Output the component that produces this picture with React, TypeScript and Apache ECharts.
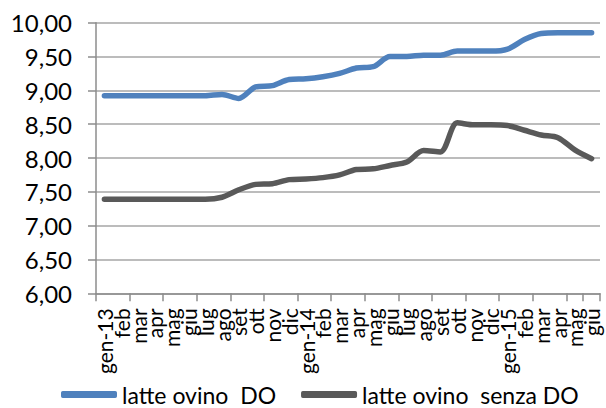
import React, { useEffect, useRef } from "react";
import * as echarts from "echarts";

const categories = [
  "gen-13", "feb", "mar", "apr", "mag", "giu", "lug", "ago", "set", "ott", "nov", "dic",
  "gen-14", "feb", "mar", "apr", "mag", "giu", "lug", "ago", "set", "ott", "nov", "dic",
  "gen-15", "feb", "mar", "apr", "mag", "giu",
];

const latteDO = [
  8.92, 8.92, 8.92, 8.92, 8.92, 8.92, 8.92, 8.94, 8.88, 9.05, 9.07, 9.16,
  9.17, 9.2, 9.25, 9.33, 9.35, 9.5, 9.5, 9.52, 9.52, 9.58, 9.58, 9.58,
  9.61, 9.75, 9.84, 9.85, 9.85, 9.85,
];

const latteSenzaDO = [
  7.39, 7.39, 7.39, 7.39, 7.39, 7.39, 7.39, 7.42, 7.53, 7.61, 7.62, 7.68,
  7.69, 7.71, 7.75, 7.83, 7.84, 7.89, 7.94, 8.11, 8.09, 8.52, 8.49, 8.49,
  8.48, 8.41, 8.34, 8.3, 8.12, 7.99,
];

const seriesNames = ["latte ovino  DO", "latte ovino  senza DO"];
const yTicks = { min: 6, max: 10, interval: 0.5 };

const FONT = "Lato";

export default function App() {
  const ref = useRef<HTMLDivElement>(null);
  useEffect(() => {
    if (!ref.current) return;
    const chart = echarts.init(ref.current, null, { renderer: "svg" });
    chart.setOption({
      animation: false,
      grid: { left: 96, right: 6, top: 22.7, bottom: 114.7 },
      legend: {
        left: 61,
        top: 383,
        padding: 0,
        itemWidth: 56,
        itemHeight: 7,
        itemGap: 25,
        icon: "roundRect",
        textStyle: { fontFamily: FONT, fontSize: 23, lineHeight: 22, color: "#000" },
        data: seriesNames,
      },
      xAxis: {
        type: "category",
        data: categories,
        boundaryGap: true,
        axisLine: { lineStyle: { color: "#8c8c8c", width: 1.5 } },
        axisTick: { show: true, interval: 1, length: 8, lineStyle: { color: "#8c8c8c", width: 1.5 } },
        axisLabel: {
          interval: 0,
          rotate: 90,
          margin: 15,
          fontFamily: FONT,
          fontSize: 21,
          color: "#000",
        },
      },
      yAxis: {
        type: "value",
        min: yTicks.min,
        max: yTicks.max,
        interval: yTicks.interval,
        axisLine: { show: true, lineStyle: { color: "#8c8c8c", width: 1.5 } },
        axisTick: { show: true, length: 8, inside: false, lineStyle: { color: "#8c8c8c", width: 1.5 } },
        splitLine: { show: true, lineStyle: { color: "#a6a6a6", width: 1.5 } },
        axisLabel: {
          margin: 24,
          fontFamily: FONT,
          fontSize: 24,
          color: "#000",
          formatter: (v: number) => v.toFixed(2).replace(".", ","),
        },
      },
      series: [
        {
          name: seriesNames[0],
          type: "line",
          data: latteDO,
          smooth: 0.3,
          showSymbol: false,
          lineStyle: { color: "#4f81bd", width: 5.5, cap: "round" },
          itemStyle: { color: "#4f81bd" },
        },
        {
          name: seriesNames[1],
          type: "line",
          data: latteSenzaDO,
          smooth: 0.3,
          showSymbol: false,
          lineStyle: { color: "#595959", width: 5.5, cap: "round" },
          itemStyle: { color: "#595959" },
        },
      ],
    });
    return () => chart.dispose();
  }, []);
  return (
    <div
      ref={ref}
      style={{ position: "fixed", left: 0, top: 0, width: 606, height: 408, background: "#fff" }}
    />
  );
}
